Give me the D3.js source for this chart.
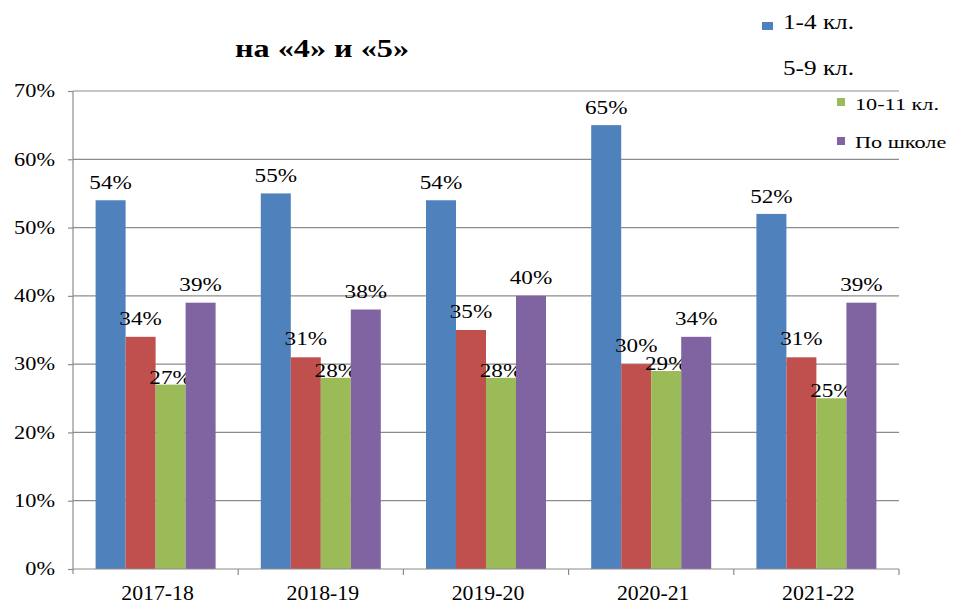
<!DOCTYPE html>
<meta charset="utf-8">
<style>
body { margin: 0; background: #fff; }
</style>
<svg id="chart" width="956" height="608"></svg>
<script src="https://cdn.jsdelivr.net/npm/d3@7"></script>
<script>
// data
var years = ["2017-18", "2018-19", "2019-20", "2020-21", "2021-22"];
var seriesNames = ["1-4 кл.", "5-9 кл.", "10-11 кл.", "По школе"];
var grades14 = [54, 55, 54, 65, 52];
var grades59 = [34, 31, 35, 30, 31];
var grades1011 = [27, 28, 28, 29, 25];
var school = [39, 38, 40, 34, 39];
var yTicks = [0, 10, 20, 30, 40, 50, 60, 70];
var colors = ["#4f81bd", "#c0504d", "#9bbb59", "#8064a2"];

var allSeries = [grades14, grades59, grades1011, school];
var serif = "'Liberation Serif', 'Times New Roman', serif";

var svg = d3.select("#chart");
var plot = {left: 73, right: 899, top: 91, bottom: 569};

var y = d3.scaleLinear().domain([0, 70]).range([plot.bottom, plot.top]);
var x0 = d3.scaleBand().domain(years).range([plot.left, plot.right]);
var x1 = d3.scaleBand().domain(d3.range(seriesNames.length))
    .range([22.6, x0.bandwidth() - 22.6]);

// text in the picture is stretched sideways, so scale it
function at(x, yy, sx) {
    return "translate(" + x + "," + yy + ") scale(" + sx + ",1)";
}

// title
svg.append("text")
    .attr("transform", at(322, 57, 1.29))
    .attr("text-anchor", "middle")
    .style("font-family", serif)
    .style("font-size", "25px").style("font-weight", "bold")
    .text("на «4» и «5»");

// gridlines
svg.append("g").selectAll("line")
    .data(yTicks.slice(1))
    .enter().append("line")
    .attr("x1", plot.left).attr("x2", plot.right)
    .attr("y1", d => y(d)).attr("y2", d => y(d))
    .attr("stroke", "#8c8c8c").attr("stroke-width", 1.2);

var yAxis = svg.append("g")
    .attr("transform", "translate(" + plot.left + ",0)")
    .call(d3.axisLeft(y).tickValues(yTicks).tickSize(5).tickFormat(d => d + "%"));
yAxis.select(".domain").remove();
yAxis.selectAll("line").attr("stroke", "#8c8c8c").attr("stroke-width", 1.2);
yAxis.selectAll("text")
    .style("font-family", serif)
    .style("font-size", "18px")
    .attr("fill", "#000")
    .attr("x", null).attr("dy", "0.32em")
    .attr("transform", at(-18, 0, 1.24));

// bars
var groups = svg.append("g").selectAll("g")
    .data(allSeries)
    .enter().append("g")
    .attr("fill", (d, i) => colors[i]);

groups.each(function (vals, si) {
    d3.select(this).selectAll("rect")
        .data(vals)
        .enter().append("rect")
        .attr("x", (d, i) => x0(years[i]) + x1(si))
        .attr("width", x1.bandwidth())
        .attr("y", d => y(d))
        .attr("height", d => y(0) - y(d));
});

// axis lines drawn over the bars
svg.append("line")
    .attr("x1", plot.left).attr("x2", plot.left)
    .attr("y1", plot.top).attr("y2", plot.bottom + 5)
    .attr("stroke", "#8c8c8c").attr("stroke-width", 1.2);

var xAxis = svg.append("g")
    .attr("transform", "translate(0," + plot.bottom + ")");
xAxis.append("line")
    .attr("x1", plot.left).attr("x2", plot.right)
    .attr("stroke", "#8c8c8c").attr("stroke-width", 1.2);
xAxis.selectAll(".tk")
    .data(years)
    .enter().append("line")
    .attr("x1", d => x0(d) + x0.bandwidth()).attr("x2", d => x0(d) + x0.bandwidth())
    .attr("y1", 0).attr("y2", 6)
    .attr("stroke", "#8c8c8c").attr("stroke-width", 1.2);
xAxis.selectAll(".lbl")
    .data(years)
    .enter().append("text")
    .attr("transform", d => at(x0(d) + x0.bandwidth() / 2 + 2, 31, 1.09))
    .attr("text-anchor", "middle")
    .style("font-family", serif)
    .style("font-size", "20px")
    .attr("fill", "#000")
    .text(d => d);

// value labels
var labelOffset = [-11, -12, -1, -12];
groups.each(function (vals, si) {
    d3.select(this).selectAll("text")
        .data(vals)
        .enter().append("text")
        .attr("transform", (d, i) => at(x0(years[i]) + x1(si) + x1.bandwidth() / 2,
                                        y(d) + labelOffset[si], 1.22))
        .attr("text-anchor", "middle")
        .style("font-family", serif)
        .style("font-size", "19px")
        .attr("fill", "#000")
        .text(d => d + "%");
});

// legend (as laid out in the picture)
var legend = [
    {i: 0, mx: 762, my: 22, mw: 11, mh: 8, tx: 783, ty: 29, fs: 21, sx: 1.2},
    {i: 1, mx: null, tx: 783, ty: 75, fs: 21, sx: 1.2},
    {i: 2, mx: 837, my: 98, mw: 8, mh: 8, tx: 855, ty: 110, fs: 17.5, sx: 1.27},
    {i: 3, mx: 837, my: 137, mw: 8, mh: 8, tx: 855, ty: 148, fs: 17.5, sx: 1.27}
];
var lg = svg.append("g");
lg.selectAll("rect")
    .data(legend.filter(d => d.mx !== null))
    .enter().append("rect")
    .attr("x", d => d.mx).attr("y", d => d.my)
    .attr("width", d => d.mw).attr("height", d => d.mh)
    .attr("fill", d => colors[d.i]);
lg.selectAll("text")
    .data(legend)
    .enter().append("text")
    .attr("transform", d => at(d.tx, d.ty, d.sx))
    .style("font-family", serif)
    .style("font-size", d => d.fs + "px")
    .attr("fill", "#000")
    .text(d => seriesNames[d.i]);
</script>
